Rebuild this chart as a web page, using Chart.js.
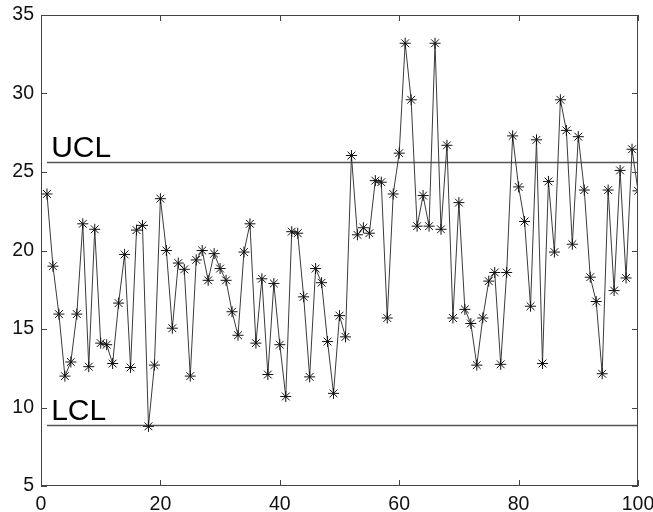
<!DOCTYPE html>
<html>
<head>
<meta charset="utf-8">
<script src="https://cdn.jsdelivr.net/npm/chart.js@4/dist/chart.umd.min.js"></script>
<style>
  html, body { margin: 0; padding: 0; background: #fff; }
  #wrap { width: 653px; height: 512px; }
</style>
</head>
<body>
<div id="wrap"><canvas id="mychart" width="653" height="512"></canvas></div>
<script>
const samples = [
  23.6, 19.0, 15.95, 12.0, 12.9, 15.95, 21.7, 12.6, 21.35, 14.1,
  14.0, 12.8, 16.65, 19.75, 12.55, 21.3, 21.6, 8.8, 12.7, 23.3,
  20.0, 15.05, 19.2, 18.8, 12.0, 19.4, 20.0, 18.1, 19.8, 18.85,
  18.1, 16.1, 14.6, 19.9, 21.7, 14.1, 18.2, 12.1, 17.9, 14.0,
  10.7, 21.2, 21.1, 17.05, 11.95, 18.85, 17.95, 14.2, 10.9, 15.85,
  14.5, 26.05, 21.0, 21.45, 21.1, 24.45, 24.35, 15.7, 23.6, 26.2,
  33.2, 29.6, 21.55, 23.5, 21.55, 33.2, 21.35, 26.7, 15.7, 23.05,
  16.25, 15.35, 12.7, 15.7, 18.05, 18.6, 12.75, 18.6, 27.3, 24.05,
  21.85, 16.45, 27.05, 12.8, 24.4, 19.9, 29.6, 27.65, 20.4, 27.25,
  23.85, 18.3, 16.75, 12.15, 23.85, 17.45, 25.1, 18.25, 26.45, 23.8
];
const limitNames = ['UCL', 'LCL'];
const limitValues = [25.6, 8.85];
const limitSpan = [1, 100];
const xTicks = [0, 20, 40, 60, 80, 100];
const yTicks = [5, 10, 15, 20, 25, 30, 35];

const inkColor = '#111';
const tickFont = { family: 'Liberation Sans, Arial, sans-serif', size: 19.5 };

let sampleData = samples.map(function (v, i) { return { x: i + 1, y: v }; });

let datasets = [{
  data: sampleData,
  borderColor: '#3a3a3a',
  borderWidth: 1,
  pointStyle: 'star',
  pointRadius: 5.5,
  pointBorderColor: '#111',
  pointBorderWidth: 1,
  pointBackgroundColor: '#111',
  tension: 0,
}];

for (let i = 0; i < limitValues.length; i++) {
  datasets.push({
    data: limitSpan.map(function (x) { return { x: x, y: limitValues[i] }; }),
    borderColor: '#555',
    borderWidth: 1.5,
    pointRadius: 0,
  });
}

// matlab style box with inward ticks on all sides, plus the limit labels
const boxPlugin = {
  id: 'box',
  afterDatasetsDraw(chart) {
    let ctx = chart.ctx;
    let a = chart.chartArea;
    let xs = chart.scales.x;
    let ys = chart.scales.y;
    ctx.save();
    ctx.strokeStyle = '#444';
    ctx.lineWidth = 1;
    ctx.strokeRect(a.left + 0.5, a.top + 0.5, a.right - a.left - 1, a.bottom - a.top - 1);
    ctx.beginPath();
    for (let t of xTicks) {
      let px = Math.round(xs.getPixelForValue(t)) + 0.5;
      ctx.moveTo(px, a.bottom); ctx.lineTo(px, a.bottom - 6);
      ctx.moveTo(px, a.top); ctx.lineTo(px, a.top + 6);
    }
    for (let t of yTicks) {
      let py = Math.round(ys.getPixelForValue(t)) + 0.5;
      ctx.moveTo(a.left, py); ctx.lineTo(a.left + 6, py);
      ctx.moveTo(a.right, py); ctx.lineTo(a.right - 6, py);
    }
    ctx.stroke();

    ctx.fillStyle = '#000';
    ctx.font = '30px Liberation Sans, Arial, sans-serif';
    ctx.textBaseline = 'alphabetic';
    for (let i = 0; i < limitNames.length; i++) {
      ctx.fillText(limitNames[i], xs.getPixelForValue(1.7), ys.getPixelForValue(limitValues[i]) - 6);
    }
    ctx.restore();
  }
};

let config = {
  type: 'line',
  data: { datasets: datasets },
  options: {
    responsive: false,
    animation: false,
    layout: { padding: { left: 0, right: 15, top: 15, bottom: 0 } },
    plugins: { legend: { display: false }, tooltip: { enabled: false } },
    scales: {
      x: {
        type: 'linear',
        min: 0,
        max: 100,
        afterBuildTicks: function (s) { s.ticks = xTicks.map(function (v) { return { value: v }; }); },
        afterFit: function (s) { s.height = 26; s.paddingLeft = 0; s.paddingRight = 0; },
        grid: { display: false, drawTicks: false },
        border: { display: false },
        ticks: { color: inkColor, font: tickFont, padding: 7, maxRotation: 0 },
      },
      y: {
        min: 5,
        max: 35,
        afterBuildTicks: function (s) { s.ticks = yTicks.map(function (v) { return { value: v }; }); },
        afterFit: function (s) { s.width = 41; s.paddingTop = 0; s.paddingBottom = 0; },
        grid: { display: false, drawTicks: false },
        border: { display: false },
        ticks: { color: inkColor, font: tickFont, padding: 7 },
      }
    }
  },
  plugins: [boxPlugin],
};

var myChart = new Chart(document.getElementById('mychart'), config);
</script>
</body>
</html>
